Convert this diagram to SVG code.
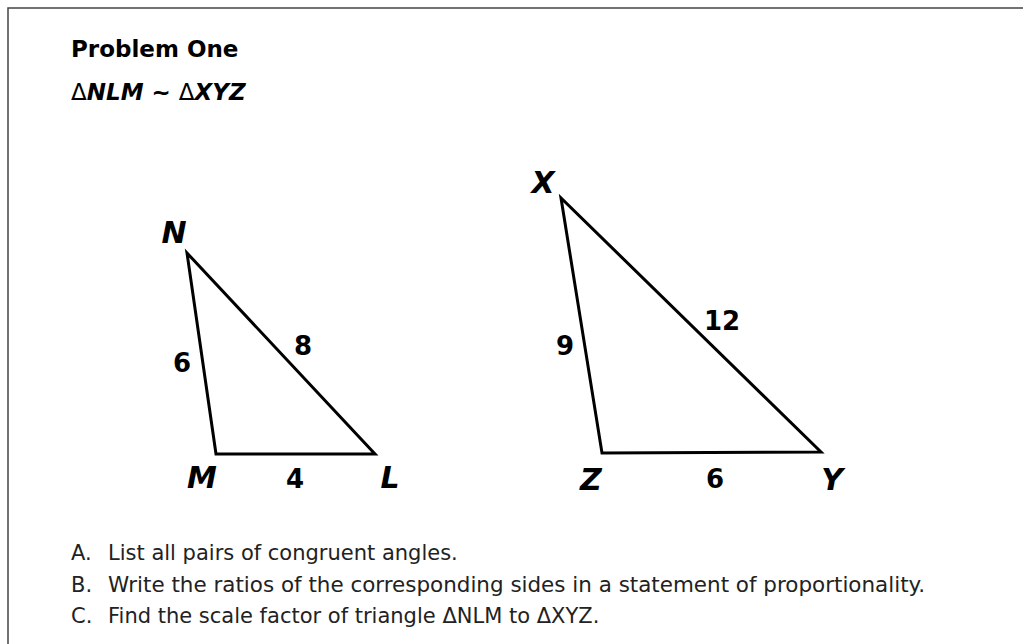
<svg xmlns="http://www.w3.org/2000/svg" width="1023" height="644" viewBox="0 0 1023 644">
<style>
.frame{fill:#fff;stroke:#444;stroke-width:1.5}
.tri{fill:none;stroke:#000;stroke-width:3;stroke-linejoin:miter}
.title{font-family:"DejaVu Sans",sans-serif;font-weight:bold;font-size:23px;fill:#000}
.vx{font-family:"DejaVu Sans",sans-serif;font-weight:bold;font-style:italic;font-size:30px;fill:#000;text-anchor:middle}
.num{font-family:"DejaVu Sans",sans-serif;font-weight:bold;font-size:26px;fill:#000;text-anchor:middle}
.item{font-family:"DejaVu Sans",sans-serif;font-size:21px;fill:#222}
</style>
<rect width="1023" height="644" fill="#fff"/>
<rect class="frame" x="8" y="8" width="1030" height="650"/>
<g id="title">
<text class="title" x="71" y="57">Problem One</text>
<text class="title" x="71" y="100"><tspan font-weight="normal">Δ</tspan><tspan font-style="italic">NLM</tspan> ~ <tspan font-weight="normal">Δ</tspan><tspan font-style="italic">XYZ</tspan></text>
</g>
<g id="triangle-NLM">
<polygon class="tri" points="187,253 216,454 375,454"/>
<text class="vx" x="174" y="243">N</text>
<text class="vx" x="202" y="488">M</text>
<text class="vx" x="390" y="488">L</text>
<text class="num" x="182" y="372">6</text>
<text class="num" x="303" y="355">8</text>
<text class="num" x="295" y="488">4</text>
</g>
<g id="triangle-XYZ">
<polygon class="tri" points="561,198 602,453 821,452"/>
<text class="vx" x="543" y="193">X</text>
<text class="vx" x="591" y="490">Z</text>
<text class="vx" x="832" y="490">Y</text>
<text class="num" x="565" y="355">9</text>
<text class="num" x="722" y="330">12</text>
<text class="num" x="715" y="488">6</text>
</g>
<g id="questions">
<text class="item" x="71" y="560">A.</text><text class="item" x="108" y="560">List all pairs of congruent angles.</text>
<text class="item" x="71" y="592">B.</text><text class="item" x="108" y="592" textLength="817" lengthAdjust="spacingAndGlyphs">Write the ratios of the corresponding sides in a statement of proportionality.</text>
<text class="item" x="71" y="623">C.</text><text class="item" x="108" y="623">Find the scale factor of triangle ΔNLM to ΔXYZ.</text>
</g>
</svg>
